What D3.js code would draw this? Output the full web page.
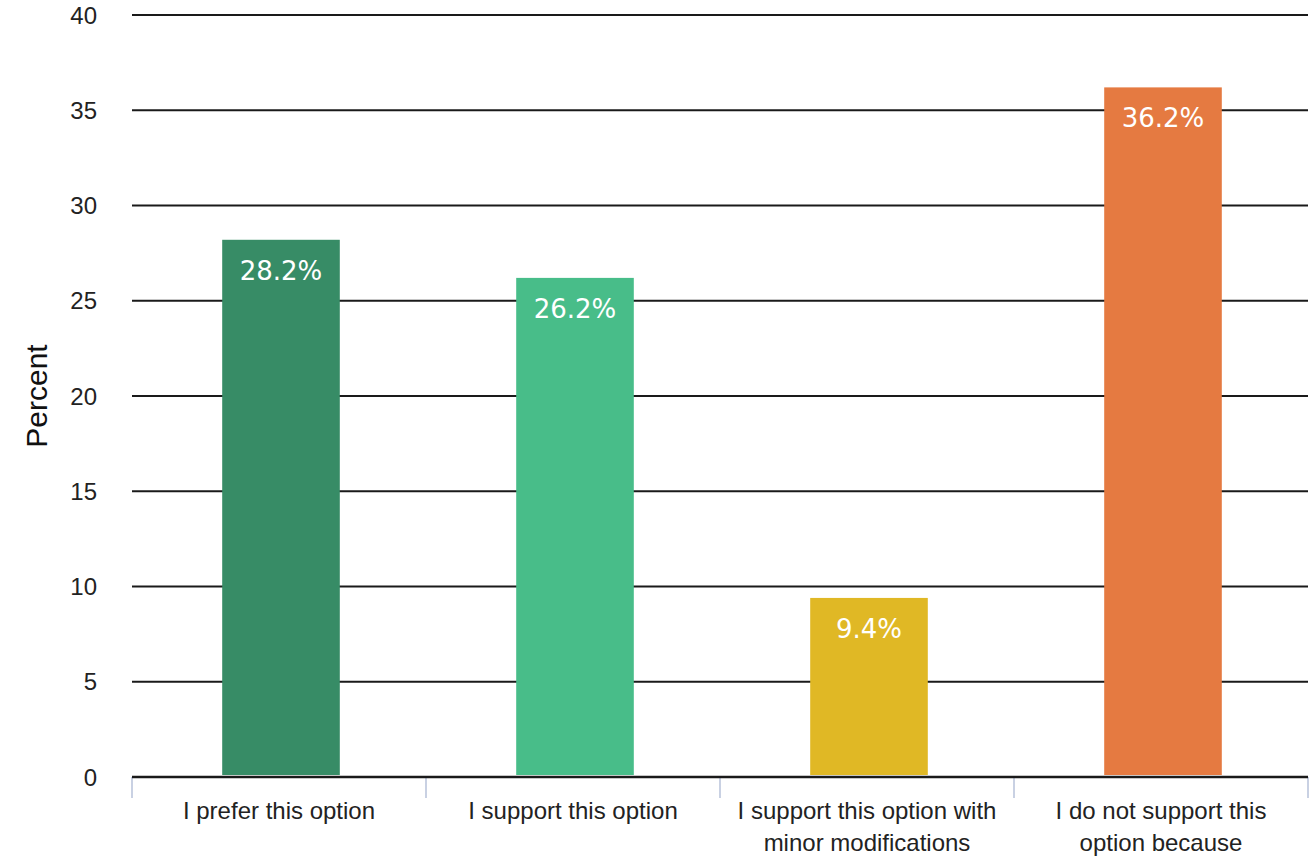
<!DOCTYPE html>
<html>
<head>
<meta charset="utf-8">
<script src="https://cdn.jsdelivr.net/npm/d3@7"></script>
<style>
  html, body { margin: 0; padding: 0; background: #fff; }
  svg { display: block; }
</style>
</head>
<body>
<svg id="chart" width="1316" height="865"></svg>
<script>
// Survey responses, percent of respondents
const categories = [
  ["I prefer this option"],
  ["I support this option"],
  ["I support this option with", "minor modifications"],
  ["I do not support this", "option because"]
];
const values = [28.2, 26.2, 9.4, 36.2];
const colors = ["#378c66", "#48bd89", "#e0b825", "#e57a41"];
const yTicks = [0, 5, 10, 15, 20, 25, 30, 35, 40];

const svg = d3.select("#chart");
const margin = { left: 132, right: 8, top: 15, bottom: 88 };
const W = 1316, H = 865;

const x = d3.scaleBand()
  .domain(d3.range(categories.length))
  .range([margin.left, W - margin.right])
  .paddingInner(0.6)
  .paddingOuter(0.3);

const xEdge = d3.scaleLinear()
  .domain([0, categories.length])
  .range([margin.left, W - margin.right]);

const y = d3.scaleLinear()
  .domain([0, 40])
  .range([H - margin.bottom, margin.top]);

// Horizontal grid lines
svg.append("g")
  .selectAll("line")
  .data(yTicks)
  .join("line")
  .attr("x1", margin.left)
  .attr("x2", W - margin.right)
  .attr("y1", d => y(d))
  .attr("y2", d => y(d))
  .attr("stroke", "#1a1a1a")
  .attr("stroke-width", 2);

// Y tick labels
svg.append("g")
  .selectAll("text")
  .data(yTicks)
  .join("text")
  .attr("x", 97)
  .attr("y", d => y(d))
  .attr("dy", "0.36em")
  .attr("text-anchor", "end")
  .attr("font-family", "Liberation Sans, Arial, sans-serif")
  .attr("font-size", 24)
  .attr("fill", "#222")
  .text(d => d);

// Y axis title
svg.append("text")
  .attr("transform", `translate(47, ${y(20)}) rotate(-90)`)
  .attr("text-anchor", "middle")
  .attr("font-family", "Liberation Sans, Arial, sans-serif")
  .attr("font-size", 30)
  .attr("fill", "#111")
  .text("Percent");

// Category separators below the baseline
svg.append("g")
  .selectAll("line")
  .data(d3.range(categories.length + 1))
  .join("line")
  .attr("x1", d => xEdge(d))
  .attr("x2", d => xEdge(d))
  .attr("y1", y(0))
  .attr("y2", y(0) + 21)
  .attr("stroke", "#c9d1e3")
  .attr("stroke-width", 2);

// Bars
svg.append("g")
  .selectAll("rect")
  .data(values)
  .join("rect")
  .attr("x", (d, i) => x(i) + 2)
  .attr("width", x.bandwidth())
  .attr("y", d => y(d))
  .attr("height", d => y(0) - y(d) - 2)
  .attr("fill", (d, i) => colors[i]);

// Baseline
svg.append("line")
  .attr("x1", margin.left)
  .attr("x2", W - margin.right)
  .attr("y1", y(0))
  .attr("y2", y(0))
  .attr("stroke", "#1a1a1a")
  .attr("stroke-width", 2.5);

// Value labels inside bar tops
svg.append("g")
  .selectAll("text")
  .data(values)
  .join("text")
  .attr("x", (d, i) => x(i) + 2 + x.bandwidth() / 2)
  .attr("y", d => y(d) + 40)
  .attr("text-anchor", "middle")
  .attr("font-family", "DejaVu Sans, sans-serif")
  .attr("font-size", 26)
  .attr("fill", "#fff")
  .text(d => d.toFixed(1) + "%");

// Category labels
const catG = svg.append("g")
  .selectAll("text")
  .data(categories)
  .join("text")
  .attr("x", (d, i) => x(i) + x.bandwidth() / 2)
  .attr("y", y(0) + 42)
  .attr("text-anchor", "middle")
  .attr("font-family", "Liberation Sans, Arial, sans-serif")
  .attr("font-size", 24)
  .attr("fill", "#222");

catG.selectAll("tspan")
  .data(d => d)
  .join("tspan")
  .attr("x", function () { return d3.select(this.parentNode).attr("x"); })
  .attr("dy", (d, i) => i === 0 ? 0 : 32)
  .text(d => d);
</script>
</body>
</html>
